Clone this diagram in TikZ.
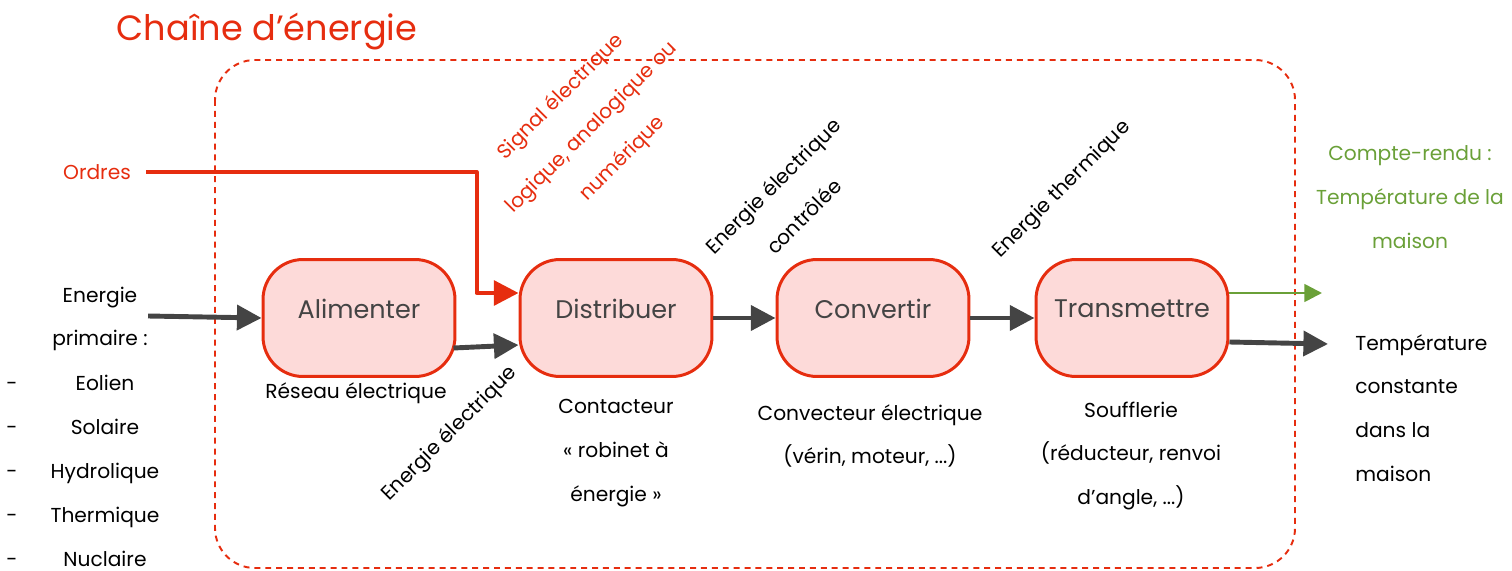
\documentclass[tikz,border=0pt]{standalone}
\usepackage{fontspec}
\setmainfont{Poppins}
\usetikzlibrary{arrows.meta,calc,positioning}
\definecolor{rouge}{RGB}{230,45,15}
\definecolor{vert}{RGB}{106,160,56}
\definecolor{gris}{RGB}{68,68,68}
\definecolor{rose}{RGB}{253,218,217}
\tikzset{
  txt/.style={font=\fontsize{11.5}{24.9}\selectfont,align=center,inner sep=0pt},
  bloc/.style={draw=rouge,fill=rose,line width=1.7pt,rounded corners=0.8cm,minimum width=3.84cm,minimum height=2.34cm},
  titre/.style={font=\fontsize{14.5}{17}\selectfont,text=gris,inner sep=0pt},
  flux/.style={gris,line width=2.8pt,-{Triangle[length=14pt,width=14pt]}},
  ordre/.style={rouge,line width=2.3pt,-{Triangle[length=14pt,width=14pt]}},
  retour/.style={vert,line width=1.5pt,-{Triangle[length=10pt,width=10pt]}}
}
\begin{document}
\begin{tikzpicture}[x=0.02cm,y=-0.02cm,line join=round]
\useasboundingbox (0,0) rectangle (1512,571);
\draw[rouge,line width=1.1pt,dash pattern=on 3.4pt off 2.8pt,rounded corners=0.8cm] (215,60) rectangle (1295,568);
\node[rouge,inner sep=0pt,font=\fontsize{20}{24}\selectfont] (titre) at (267,32) {Chaîne d’énergie};
% blocs
\foreach \n/\t/\x in {A/Alimenter/359,D/Distribuer/616,C/Convertir/873,T/Transmettre/1132}{
  \node[bloc] (\n) at (\x,318) {};
  \node[titre] (\n t) at (\x,309) {\t};
}
% entrees
\node[txt] (EP) at (100,319) {Energie\\primaire :};
\foreach \t [count=\i] in {Eolien,Solaire,Hydrolique,Thermique,Nuclaire}{
  \node[txt,anchor=base] (L\i) at (105,{390+44*(\i-1)}) {\t};
  \node[txt,anchor=base] (m\i) at (12,{390+44*(\i-1)}) {-};
}
\node[txt,rouge] (O) at (97,172) {Ordres};
% fleches
\draw[flux] ($(EP.east)+(0,-3)$) -- (A.west);
\draw[flux] ($(A.east)+(-3,30)$) -- ($(D.west)+(0,27)$);
\draw[flux] (D) -- (C);
\draw[flux] (C) -- (T);
\draw[ordre] ($(O.east)+(15,0)$) -| ($(D.west)+(-42,-25)$) -- ($(D.west)+(0,-25)$);
\coordinate (G) at (1322,293);
\coordinate (S) at (1328,344);
\draw[retour] ($(T.east)+(0,-25)$) -- (G);
\draw[flux] ($(T.east)+(0,24)$) -- (S);
% textes
\node[txt] (R) at (356,393) {Réseau électrique};
\node[txt,rotate=45] (E1) at (450,434) {Energie électrique};
\node[txt,rotate=45,rouge] (Sig) at (592,128) {Signal électrique\\logique, analogique ou\\numérique};
\node[txt,rotate=45] (E2) at (788,201) {Energie électrique\\contrôlée};
\node[txt,rotate=45] (E3) at (1062,190) {Energie thermique};
\node[txt] (Dt) at (616,453) {Contacteur\\« robinet à\\énergie »};
\node[txt] (Ct) at (870,436) {Convecteur électrique\\(vérin, moteur, ...)};
\node[txt] (Tt) at (1131,456) {Soufflerie\\(réducteur, renvoi\\d’angle, ...)};
\node[txt,align=left,anchor=west] (TC) at (1355,408) {Température\\constante\\dans la\\maison};
\node[txt,vert] (CR) at (1410,197) {Compte-rendu :\\Température de la\\maison};
\end{tikzpicture}
\end{document}
